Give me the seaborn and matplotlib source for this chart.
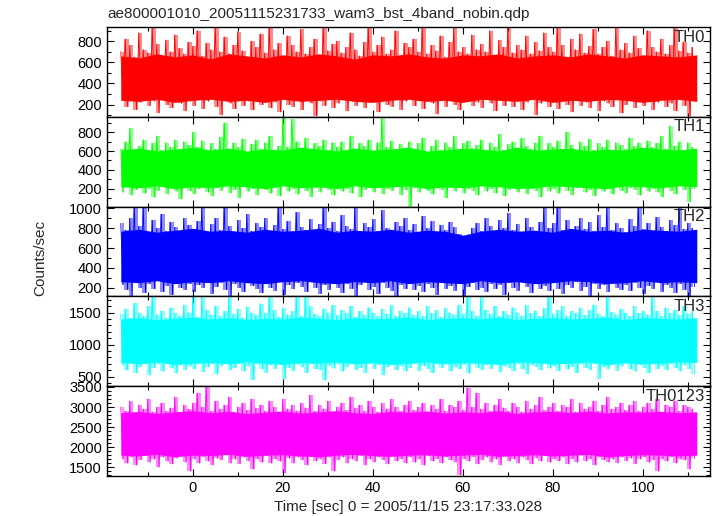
import numpy as np
import pandas as pd
import matplotlib
matplotlib.use("Agg")
import matplotlib.pyplot as plt
from matplotlib.ticker import MultipleLocator
import seaborn as sns

# light curve of the 4 WAM bands + sum, read per 1 s bin (max / min in each bin)
time_start = -16  # first bin, sec
core_step = 4     # the dense core band is read every 4 s
bands = ["TH0", "TH1", "TH2", "TH3", "TH0123"]
colors = ["#ff0000", "#00ff00", "#0000ff", "#00ffff", "#ff00ff"]

th0_hi = [700, 820, 760, 650, 880, 720, 690, 930, 770, 640, 810, 700, 860, 730, 680, 790,
          750, 900, 660, 780, 720, 930, 700, 840, 680, 760, 890, 710, 650, 800, 740, 870,
          690, 930, 720, 780, 650, 850, 760, 700, 910, 680, 740, 820, 660, 930, 710, 770,
          800, 690, 740, 880, 720, 660, 790, 930, 700, 760, 840, 680, 720, 900, 650, 780,
          740, 820, 700, 930, 680, 760, 710, 850, 650, 790, 930, 700, 740, 680, 860, 720,
          770, 700, 900, 660, 810, 740, 930, 690, 760, 720, 850, 680, 790, 710, 880, 740,
          700, 930, 760, 650, 820, 720, 870, 690, 750, 910, 680, 740, 800, 660, 930, 720,
          780, 690, 850, 730, 660, 900, 740, 700, 820, 680, 760, 930, 710, 790, 690, 740]
th0_lo = [240, 180, 260, 150, 220, 270, 190, 230, 120, 250, 200, 170, 260, 210, 140, 230,
          190, 250, 160, 230, 270, 180, 100, 240, 210, 160, 260, 190, 230, 150, 270, 200,
          250, 170, 220, 130, 260, 200, 180, 240, 150, 270, 210, 90, 230, 190, 250, 170,
          210, 260, 140, 230, 190, 250, 170, 220, 270, 130, 240, 200, 180, 260, 150, 230,
          260, 190, 230, 160, 250, 210, 110, 240, 180, 270, 200, 150, 230, 260, 190, 220,
          170, 250, 210, 140, 260, 190, 230, 180, 270, 150, 220, 250, 100, 210, 240, 180,
          230, 160, 260, 200, 130, 250, 190, 220, 170, 260, 140, 230, 210, 180, 250, 120,
          200, 260, 170, 230, 190, 250, 150, 220, 270, 180, 210, 140, 240, 190, 90, 230]

th1_hi = [620, 700, 840, 580, 650, 720, 600, 680, 760, 610, 690, 640, 720, 590, 700, 660,
          800, 640, 710, 590, 680, 620, 750, 900, 610, 690, 640, 730, 580, 670, 720, 620,
          690, 760, 600, 650, 960, 640, 940, 700, 620, 740, 590, 680, 650, 720, 610, 690,
          640, 700, 590, 760, 620, 680, 650, 720, 600, 690, 950, 640, 710, 590, 670, 630,
          700, 620, 680, 740, 590, 650, 720, 610, 690, 640, 760, 600, 680, 710, 630, 660,
          720, 600, 690, 640, 780, 610, 670, 700, 590, 740, 650, 620, 690, 760, 600, 680,
          640, 710, 620, 800, 660, 590, 700, 650, 730, 610, 680, 640, 720, 600, 690, 660,
          620, 740, 650, 690, 600, 710, 640, 680, 760, 620, 870, 650, 700, 610, 690, 640]
th1_lo = [160, 220, 130, 190, 240, 150, 200, 110, 180, 230, 140, 200, 170, 90, 210, 180,
          140, 200, 230, 160, 120, 210, 180, 240, 150, 190, 100, 220, 170, 200, 130, 230,
          190, 150, 210, 120, 240, 170, 200, 140, 230, 180, 110, 210, 160, 240, 190, 130,
          220, 170, 200, 150, 230, 110, 190, 210, 160, 240, 140, 200, 180, 220, 130, 190,
          10, 210, 160, 230, 180, 140, 220, 190, 100, 210, 170, 240, 150, 200, 180, 130,
          230, 170, 200, 150, 240, 120, 190, 210, 160, 230, 140, 200, 180, 110, 220, 170,
          200, 150, 230, 180, 130, 210, 240, 160, 190, 120, 220, 170, 200, 140, 230, 180,
          150, 210, 190, 130, 240, 170, 200, 160, 110, 220, 180, 140, 230, 190, 60, 200]

th2_hi = [850, 780, 900, 1020, 820, 1020, 760, 880, 800, 940, 770, 860, 810, 750, 900, 830,
          790, 870, 1020, 760, 840, 900, 780, 1020, 820, 760, 880, 800, 940, 770, 850, 810,
          900, 760, 830, 1020, 790, 870, 750, 960, 810, 780, 890, 760, 840, 1020, 800, 860,
          770, 930, 820, 790, 1020, 760, 850, 810, 890, 770, 980, 800, 760, 860, 820, 900,
          780, 840, 760, 920, 800, 870, 750, 830, 780, 860, 810, 740, 690, 720, 800, 850,
          770, 900, 820, 760, 880, 800, 950, 780, 840, 760, 900, 810, 770, 860, 1020, 800,
          850, 1020, 780, 880, 760, 820, 900, 790, 860, 770, 930, 810, 1020, 780, 850, 800,
          760, 890, 820, 1020, 790, 850, 770, 910, 810, 760, 880, 830, 1020, 790, 850, 800]
th2_lo = [230, 180, 120, 260, 200, 150, 240, 190, 270, 160, 220, 130, 250, 200, 180, 240,
          160, 230, 200, 270, 140, 210, 250, 180, 120, 240, 200, 160, 260, 220, 190, 150,
          240, 200, 170, 260, 130, 230, 190, 250, 210, 160, 270, 200, 140, 230, 180, 250,
          200, 150, 240, 190, 120, 230, 260, 180, 210, 140, 250, 200, 170, 120, 230, 190,
          250, 180, 220, 160, 240, 200, 130, 260, 190, 220, 170, 240, 120, 210, 250, 180,
          200, 160, 240, 190, 230, 130, 250, 200, 170, 260, 210, 150, 240, 190, 220, 170,
          250, 190, 140, 230, 200, 260, 170, 210, 120, 240, 190, 230, 160, 250, 200, 180,
          230, 170, 250, 200, 140, 220, 190, 260, 160, 230, 200, 150, 240, 180, 120, 210]

th3_hi = [1480, 1560, 1420, 1650, 1500, 1440, 1600, 1760, 1470, 1530, 1420, 1580, 1490, 1450, 1620, 1500,
          1760, 1430, 1760, 1540, 1470, 1600, 1440, 1520, 1760, 1480, 1560, 1420, 1590, 1500, 1460, 1640,
          1490, 1760, 1540, 1430, 1580, 1470, 1520, 1760, 1450, 1760, 1600, 1480, 1440, 1560, 1500, 1620,
          1460, 1540, 1490, 1600, 1430, 1520, 1470, 1580, 1500, 1440, 1560, 1480, 1620, 1450, 1530, 1490,
          1580, 1460, 1520, 1440, 1600, 1490, 1540, 1430, 1570, 1500, 1460, 1620, 1480, 1760, 1520, 1450,
          1760, 1540, 1480, 1600, 1440, 1520, 1470, 1580, 1500, 1450, 1620, 1490, 1530, 1440, 1570, 1760,
          1480, 1540, 1600, 1450, 1520, 1490, 1580, 1460, 1540, 1620, 1480, 1440, 1760, 1510, 1470, 1560,
          1500, 1440, 1600, 1490, 1530, 1470, 1760, 1520, 1450, 1580, 1490, 1540, 1460, 1600, 1480, 1520]
th3_lo = [680, 600, 720, 560, 650, 700, 520, 640, 690, 580, 710, 630, 550, 680, 600, 660,
          620, 700, 570, 650, 690, 540, 660, 720, 600, 640, 700, 580, 660, 450, 690, 620,
          560, 680, 620, 700, 460, 640, 590, 690, 650, 560, 700, 620, 600, 440, 670, 630,
          690, 580, 650, 720, 600, 640, 560, 700, 620, 680, 520, 650, 700, 600, 660, 580,
          640, 700, 590, 660, 620, 560, 690, 640, 700, 580, 650, 620, 680, 550, 700, 640,
          600, 680, 620, 700, 570, 660, 640, 590, 700, 620, 540, 680, 650, 600, 700, 630,
          660, 590, 700, 620, 650, 560, 690, 640, 610, 700, 470, 650, 620, 680, 590, 660,
          700, 620, 580, 680, 640, 560, 690, 620, 660, 600, 700, 640, 580, 680, 620, 540]

th0123_hi = [3000, 2900, 3150, 2850, 3050, 2950, 3200, 2880, 3000, 3100, 2900, 2980, 3250, 2870, 3050, 2950,
             3100, 3350, 3000, 3520, 2900, 3150, 2950, 3050, 3250, 2880, 3000, 3100, 2920, 3200, 2980, 3050,
             2900, 3150, 3000, 2880, 3200, 2950, 3050, 2900, 3100, 2980, 3300, 2900, 3050, 2950, 3150, 2880,
             3000, 3100, 2920, 3250, 2980, 3050, 2900, 3150, 3000, 2880, 3100, 2950, 3200, 3000, 2900, 3050,
             3150, 2920, 3000, 3100, 2880, 3050, 2950, 3200, 2900, 3050, 3000, 3150, 2920, 3480, 3000, 3350,
             2950, 3100, 2900, 3050, 3200, 2980, 2900, 3100, 3000, 2880, 3150, 2950, 3050, 3250, 2920, 3000,
             3100, 2900, 3050, 3000, 3200, 2880, 3100, 2950, 3000, 3150, 2900, 3050, 3250, 2950, 3000, 3100,
             2920, 3050, 3150, 2900, 3000, 3100, 2950, 3200, 2880, 3050, 3000, 3150, 2900, 3050, 3000, 2950]
th0123_lo = [1700, 1600, 1750, 1550, 1680, 1800, 1620, 1700, 1500, 1750, 1650, 1580, 1720, 1800, 1620, 1400,
             1700, 1600, 1760, 1650, 1550, 1720, 1680, 1800, 1600, 1700, 1580, 1750, 1650, 1450, 1700, 1620,
             1780, 1600, 1700, 1650, 1350, 1720, 1600, 1750, 1680, 1550, 1800, 1650, 1700, 1580, 1750, 1400,
             1680, 1750, 1600, 1700, 1650, 1780, 1550, 1700, 1620, 1750, 1680, 1580, 1800, 1650, 1700, 1600,
             1750, 1620, 1700, 1550, 1780, 1650, 1700, 1600, 1750, 1680, 1620, 1300, 1700, 1650, 1760, 1580,
             1680, 1750, 1620, 1700, 1550, 1780, 1650, 1700, 1600, 1750, 1680, 1580, 1720, 1650, 1800, 1620,
             1700, 1650, 1750, 1580, 1700, 1620, 1800, 1650, 1700, 1550, 1750, 1680, 1620, 1700, 1600, 1750,
             1650, 1720, 1580, 1700, 1750, 1620, 1680, 1400, 1700, 1650, 1750, 1600, 1700, 1680, 1450, 1720]

# upper / lower edge of the dense (solid looking) part, every 4 s from -16 to 112
th0_core_hi = [660, 640, 680, 650, 670, 630, 680, 660, 640, 670, 650, 680, 660, 630, 670, 660, 680,
               650, 640, 670, 660, 680, 640, 660, 670, 650, 680, 660, 640, 670, 660, 650, 670]
th0_core_lo = [240, 230, 250, 220, 240, 250, 230, 240, 220, 250, 230, 240, 250, 230, 220, 240, 250,
               230, 240, 220, 250, 240, 230, 250, 220, 240, 230, 250, 240, 220, 240, 250, 230]
th1_core_hi = [610, 630, 600, 620, 640, 610, 630, 600, 620, 610, 640, 620, 600, 630, 610, 620, 640,
               600, 610, 630, 620, 600, 640, 610, 620, 630, 600, 620, 610, 640, 620, 610, 630]
th1_core_lo = [220, 210, 230, 200, 220, 210, 230, 220, 200, 230, 210, 220, 200, 230, 210, 220, 230,
               200, 220, 210, 230, 220, 200, 210, 230, 220, 210, 200, 230, 220, 210, 230, 220]
th2_core_hi = [770, 790, 760, 780, 800, 770, 780, 760, 790, 770, 780, 800, 760, 780, 770, 790, 760,
               780, 770, 730, 770, 790, 770, 780, 760, 800, 770, 780, 760, 790, 780, 770, 790]
th2_core_lo = [260, 250, 270, 240, 260, 250, 270, 250, 240, 260, 270, 250, 240, 260, 250, 270, 240,
               260, 250, 240, 270, 250, 260, 240, 250, 270, 260, 240, 250, 270, 250, 260, 250]
th3_core_hi = [1400, 1420, 1390, 1410, 1430, 1400, 1420, 1390, 1410, 1400, 1430, 1410, 1390, 1420, 1400, 1410, 1430,
               1390, 1410, 1420, 1400, 1430, 1390, 1410, 1420, 1400, 1410, 1430, 1390, 1420, 1410, 1400, 1420]
th3_core_lo = [720, 700, 730, 690, 710, 720, 700, 730, 710, 690, 720, 710, 730, 700, 720, 690, 710,
               730, 700, 720, 710, 690, 730, 720, 700, 710, 730, 690, 720, 700, 710, 730, 720]
th0123_core_hi = [2860, 2890, 2840, 2880, 2910, 2860, 2890, 2840, 2870, 2900, 2850, 2880, 2910, 2860, 2840, 2890, 2870,
                  2900, 2850, 2880, 2860, 2910, 2840, 2880, 2890, 2860, 2900, 2850, 2880, 2870, 2890, 2860, 2880]
th0123_core_lo = [1800, 1780, 1820, 1760, 1800, 1790, 1820, 1770, 1800, 1810, 1780, 1760, 1800, 1820, 1790, 1770, 1800,
                  1810, 1780, 1800, 1820, 1770, 1790, 1810, 1780, 1800, 1820, 1760, 1790, 1810, 1800, 1780, 1800]

highs = [th0_hi, th1_hi, th2_hi, th3_hi, th0123_hi]
lows = [th0_lo, th1_lo, th2_lo, th3_lo, th0123_lo]
core_highs = [th0_core_hi, th1_core_hi, th2_core_hi, th3_core_hi, th0123_core_hi]
core_lows = [th0_core_lo, th1_core_lo, th2_core_lo, th3_core_lo, th0123_core_lo]

# axis ranges and tick steps per panel
ylims = [(85, 935), (10, 965), (112, 1020), (350, 1755), (1280, 3520)]
ymajor = [200, 200, 200, 500, 500]
yminor = [100, 100, 100, 100, 100]


def build_frame():
    """Interleave bin max / bin min so the trace zigzags like the raw curve."""
    rows = []
    for band, hi, lo in zip(bands, highs, lows):
        for i, (h, l) in enumerate(zip(hi, lo)):
            t = time_start + i
            rows.append((band, t, h))
            rows.append((band, t + 0.5, l))
    return pd.DataFrame(rows, columns=["band", "time", "rate"])


df = build_frame()

sns.set_style("ticks")
plt.rcParams["font.family"] = ["Liberation Sans", "DejaVu Sans"]

fig, axes = plt.subplots(5, 1, sharex=True, figsize=(7.17, 5.16), dpi=100)
fig.subplots_adjust(left=0.149, right=0.990, top=0.948, bottom=0.0775, hspace=0)

for k, (ax, band, color) in enumerate(zip(axes, bands, colors)):
    sub = df[df["band"] == band]
    bin_t = [time_start + i + 0.25 for i in range(len(highs[k]))]
    # pale envelope: full bin-to-bin range of the fast variations
    ax.fill_between(bin_t, lows[k], highs[k], step="mid", color=color,
                    alpha=0.45, lw=0)
    # dense part of the curve
    core_t = [time_start + core_step * i for i in range(len(core_highs[k]))]
    ax.fill_between(core_t, core_lows[k], core_highs[k], color=color, lw=0)
    # individual spikes
    sns.lineplot(data=sub, x="time", y="rate", color=color, lw=0.6,
                 estimator=None, ax=ax)
    ax.set_ylim(*ylims[k])
    ax.set_xlim(-19.1, 114.9)
    ax.yaxis.set_major_locator(MultipleLocator(ymajor[k]))
    ax.yaxis.set_minor_locator(MultipleLocator(yminor[k]))
    ax.xaxis.set_major_locator(MultipleLocator(20))
    ax.xaxis.set_minor_locator(MultipleLocator(10))
    ax.tick_params(which="both", direction="in", top=True, right=True,
                   labelsize=10.5, colors="black", width=0.8)
    ax.tick_params(which="major", length=5)
    ax.tick_params(which="minor", length=3)
    for sp in ax.spines.values():
        sp.set_color("black")
        sp.set_linewidth(1.0)
    ax.set_xlabel("")
    ax.set_ylabel("")
    ax.text(0.992, 0.97, band, transform=ax.transAxes, ha="right", va="top",
            fontsize=12)

axes[-1].set_xlabel("Time [sec] 0 = 2005/11/15 23:17:33.028", fontsize=11, labelpad=4)
fig.text(40 / 717, 1 - 258 / 516, "Counts/sec", rotation=90, ha="center",
         va="center", fontsize=11)
fig.text(107 / 717, 1 - 14 / 516, "ae800001010_20051115231733_wam3_bst_4band_nobin.qdp",
         ha="left", va="center", fontsize=11)

fig.savefig("out.png", dpi=100)
